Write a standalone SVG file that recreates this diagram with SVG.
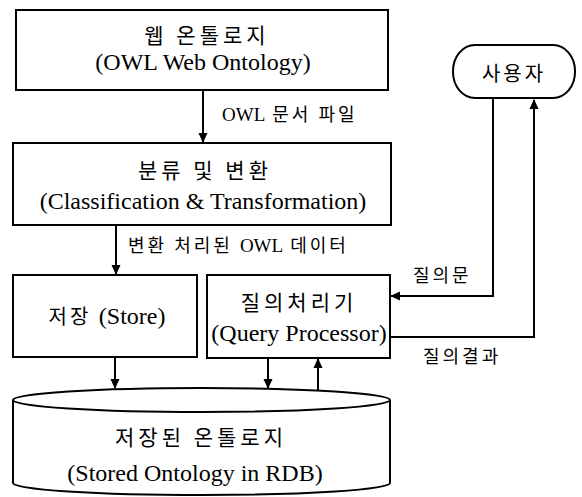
<svg xmlns="http://www.w3.org/2000/svg" width="582" height="497" viewBox="0 0 582 497">
<defs>
<marker id="ah" markerWidth="10" markerHeight="10" refX="9" refY="5" orient="auto" markerUnits="userSpaceOnUse">
<path d="M0,0.5 L10,5 L0,9.5 Z" fill="#000"/>
</marker>
<style>
.box{fill:#fff;stroke:#000;stroke-width:2}
.ln{fill:none;stroke:#000;stroke-width:2}
.ko{font-family:"Noto Sans CJK KR","Noto Sans",sans-serif;font-size:21px;letter-spacing:4px;fill:#000}
.en{font-family:"Liberation Serif","Times New Roman",serif;font-size:24px;fill:#000}
.lb{font-family:"Noto Sans CJK KR","Noto Sans",sans-serif;font-size:18px;letter-spacing:3px;fill:#000}
.lbe{font-family:"Liberation Serif",serif;font-size:19px;letter-spacing:0}
</style>
</defs>
<rect width="582" height="497" fill="#fff"/>
<g id="connectors">
<line class="ln" x1="203" y1="90" x2="203" y2="142" marker-end="url(#ah)"/>
<line class="ln" x1="116" y1="225" x2="116" y2="274" marker-end="url(#ah)"/>
<line class="ln" x1="115" y1="357" x2="115" y2="388" marker-end="url(#ah)"/>
<line class="ln" x1="268" y1="358" x2="268" y2="388" marker-end="url(#ah)"/>
<line class="ln" x1="318" y1="390" x2="318" y2="359" marker-end="url(#ah)"/>
<polyline class="ln" points="493,98 493,296 391,296" marker-end="url(#ah)"/>
<polyline class="ln" points="390,337 534,337 534,100" marker-end="url(#ah)"/>
<text class="lb" x="222" y="121"><tspan class="lbe">OWL</tspan> 문서 파일</text>
<text class="lb" x="128" y="252">변환 처리된 <tspan class="lbe">OWL</tspan> 데이터</text>
<text class="lb" x="413" y="282">질의문</text>
<text class="lb" x="423" y="363">질의결과</text>
</g>
<g id="web-ontology">
<rect class="box" x="16" y="10" width="372" height="80"/>
<text class="ko" x="207" y="43" text-anchor="middle">웹 온톨로지</text>
<text class="en" x="203" y="70" text-anchor="middle">(OWL Web Ontology)</text>
</g>
<g id="classification">
<rect class="box" x="13" y="143" width="378" height="82"/>
<text class="ko" x="205" y="178" text-anchor="middle">분류 및 변환</text>
<text class="en" x="203" y="209" text-anchor="middle">(Classification &amp; Transformation)</text>
</g>
<g id="store">
<rect class="box" x="13" y="275" width="184" height="82"/>
<text class="ko" x="107" y="324" text-anchor="middle" style="font-size:20px;letter-spacing:3px">저장 <tspan class="en" letter-spacing="0">(Store)</tspan></text>
</g>
<g id="query-processor">
<rect class="box" x="207" y="275" width="183" height="83"/>
<text class="ko" x="299" y="310" text-anchor="middle">질의처리기</text>
<text class="en" x="299" y="341" text-anchor="middle">(Query Processor)</text>
</g>
<g id="user">
<rect class="box" x="453" y="45" width="122" height="53" rx="22" ry="26"/>
<text class="ko" x="514" y="81" text-anchor="middle" style="font-size:20px;letter-spacing:3px">사용자</text>
</g>
<g id="stored-ontology">
<path class="box" d="M13,400 L13,483 A188.5,12 0 0 0 390,483 L390,400"/>
<ellipse class="box" cx="201.5" cy="400" rx="188.5" ry="12"/>
<text class="ko" x="201" y="445" text-anchor="middle">저장된 온톨로지</text>
<text class="en" x="195" y="481" text-anchor="middle">(Stored Ontology in RDB)</text>
</g>
</svg>
